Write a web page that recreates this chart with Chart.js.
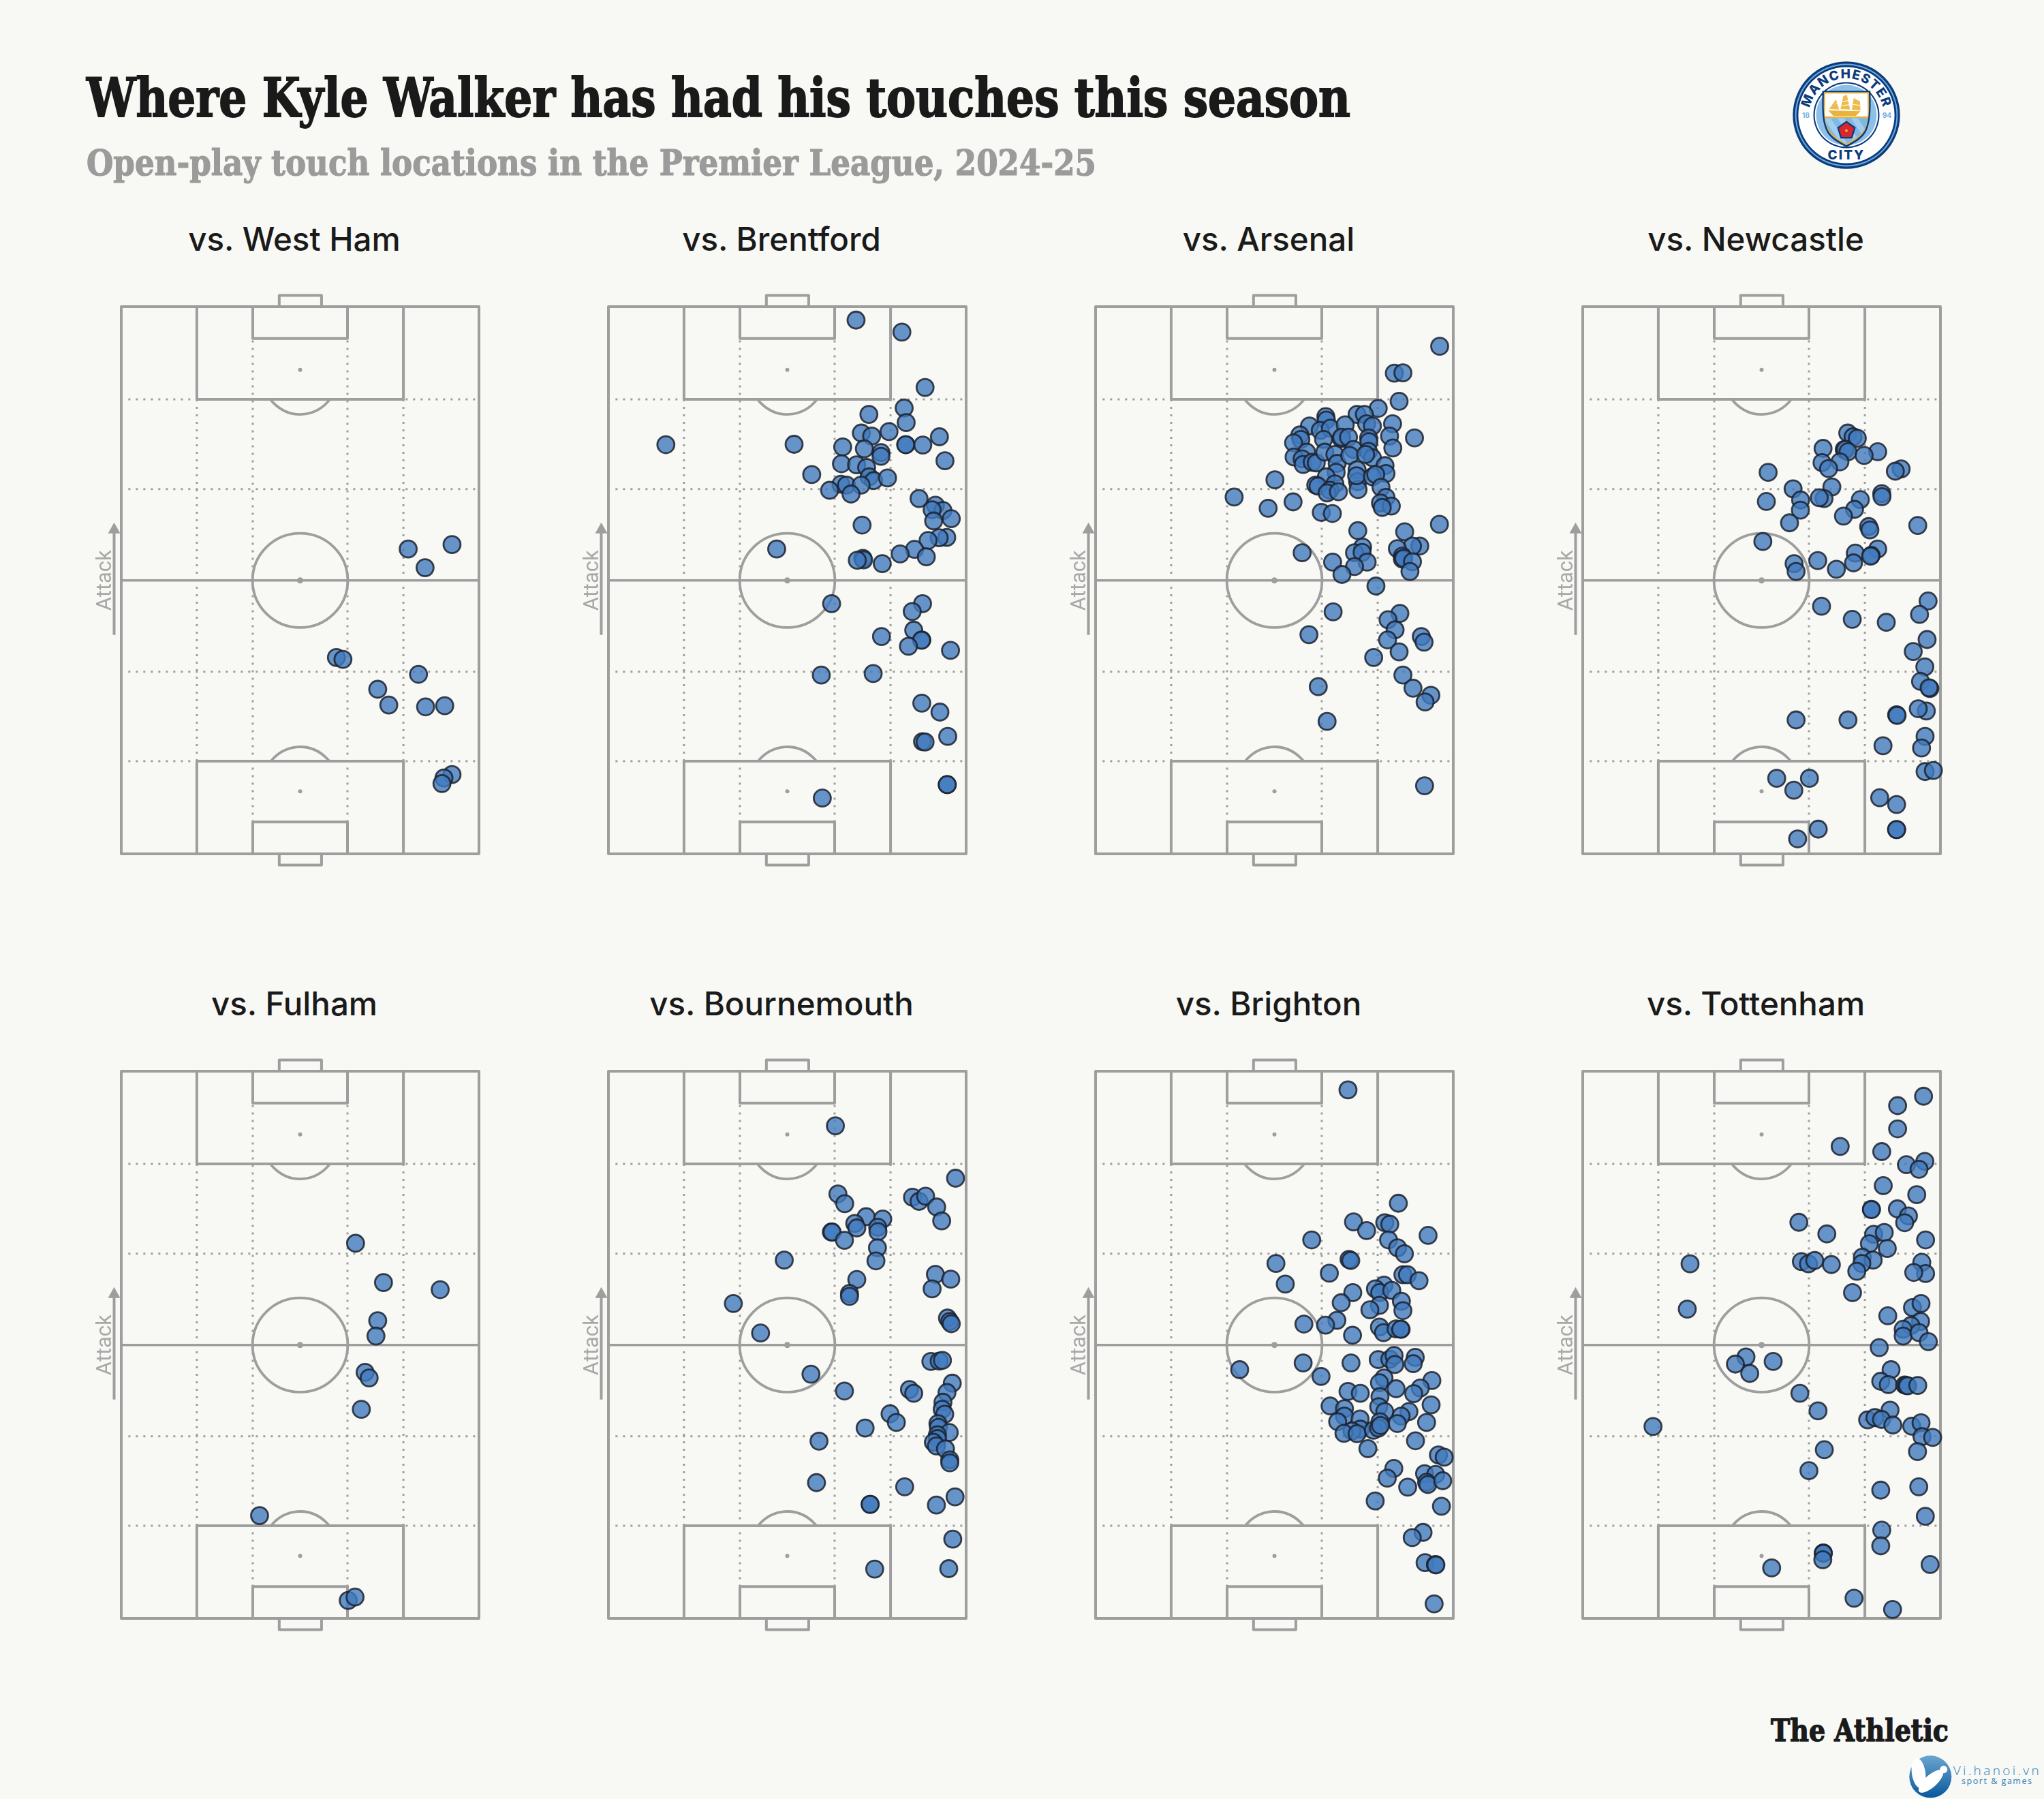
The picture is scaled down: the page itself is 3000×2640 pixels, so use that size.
<!DOCTYPE html>
<html>
<head>
<meta charset="utf-8">
<title>Where Kyle Walker has had his touches this season</title>
<script src="https://cdn.jsdelivr.net/npm/chart.js@4/dist/chart.umd.min.js"></script>
<style>
  html, body { margin: 0; padding: 0; background: #f8f8f4; }
  body { position: relative; width: 3000px; height: 2640px; overflow: hidden; }
  canvas { position: absolute; }
  .match { position: absolute; font: 500 47.5px Inter, sans-serif; color: #1a1a1a; text-align: center; width: 700px; line-height: 60px; }
  #overlay { position: absolute; left: 0; top: 0; }
</style>
</head>
<body>
<svg id="overlay" width="3000" height="2640" xmlns="http://www.w3.org/2000/svg">
  <defs>
    <path id="crestArc" d="M 2655 170 A 55 55 0 0 1 2765 170"/>
    <linearGradient id="viBlue" x1="0" y1="0" x2="0" y2="1">
      <stop offset="0" stop-color="#6ba5cf"/>
      <stop offset="1" stop-color="#07589d"/>
    </linearGradient>
    <clipPath id="shieldLower">
      <path d="M417 340 L603 340 C604 350 600 370 590 386 C576 416 542 436 510 452 C478 436 444 416 430 386 C420 370 416 350 417 340 Z"/>
    </clipPath>
  </defs>
  <text x="127" y="171" font-family="'DejaVu Serif Condensed','DejaVu Serif',serif" font-weight="700" font-size="78" fill="#1a1a1a" stroke="#1a1a1a" stroke-width="1.8" textLength="1855" lengthAdjust="spacingAndGlyphs">Where Kyle Walker has had his touches this season</text>
  <text x="127" y="257" font-family="'DejaVu Serif Condensed','DejaVu Serif',serif" font-weight="700" font-size="52" fill="#9b9b9b" stroke="#9b9b9b" stroke-width="1.2" textLength="1482" lengthAdjust="spacingAndGlyphs">Open-play touch locations in the Premier League, 2024-25</text>

  <!-- club crest -->
  <circle cx="2710" cy="169" r="78.7" fill="#0b3b7c"/>
  <circle cx="2710" cy="169" r="75.4" fill="#6cabdd"/>
  <circle cx="2710" cy="169" r="73.4" fill="#0b3b7c"/>
  <circle cx="2710" cy="169" r="70.6" fill="#ffffff"/>
  <circle cx="2710" cy="169" r="48.5" fill="#0b3b7c"/>
  <circle cx="2710" cy="169" r="46.4" fill="#ffffff"/>
  <circle cx="2710" cy="169" r="44.5" fill="#8cc0e8"/>
  <g transform="translate(2540 60) scale(0.3333)">
    <path d="M404 220 L616 220 C618 300 618 350 600 392 C585 428 545 450 510 468 C475 450 435 428 420 392 C402 350 402 300 404 220 Z" fill="#0b3b7c"/>
    <path d="M411 226 L609 226 C611 300 611 348 594 388 C580 422 543 442 510 460 C477 442 440 422 426 388 C409 348 409 300 411 226 Z" fill="#e9b33f"/>
    <path d="M417 232 L603 232 L604 332 L416 332 Z" fill="#ffffff"/>
    <path d="M417 340 L603 340 C604 350 600 370 590 386 C576 416 542 436 510 452 C478 436 444 416 430 386 C420 370 416 350 417 340 Z" fill="#7fb8e4"/>
    <g clip-path="url(#shieldLower)" fill="#a3cdee">
      <path d="M410 340 L440 340 L520 460 L490 460 Z M470 340 L500 340 L580 460 L550 460 Z M530 340 L560 340 L640 460 L610 460 Z"/>
    </g>
    <path d="M430 306 L572 310 L552 330 L452 330 Z" fill="#e9b33f"/>
    <path d="M434 300 L464 258 L478 302 Z M484 300 L496 244 L512 236 L526 302 Z M534 304 L542 252 L570 266 L572 306 Z" fill="#efbb4c"/>
    <path d="M490 268 L522 262 M488 286 L526 280 M464 276 L476 274 M540 280 L570 284" stroke="#ffffff" stroke-width="3" fill="none"/>
    <path d="M510 352 L551 381 L536 430 L484 430 L469 381 Z" fill="#0b3b7c"/>
    <path d="M510 360 L543 384 L531 423 L489 423 L477 384 Z" fill="#d8262c"/>
    <circle cx="510" cy="395" r="6" fill="#e9b33f"/>
  </g>
  <text font-family="Inter, sans-serif" font-weight="800" font-size="19" fill="#0b3b7c" letter-spacing="1.3" text-anchor="middle"><textPath href="#crestArc" startOffset="50%">MANCHESTER</textPath></text>
  <text x="2710" y="234" font-family="Inter, sans-serif" font-weight="800" font-size="19" fill="#0b3b7c" letter-spacing="2" text-anchor="middle">CITY</text>
  <text x="2650.5" y="173" font-family="Inter, sans-serif" font-weight="600" font-size="10.5" fill="#6cabdd" text-anchor="middle">18</text>
  <text x="2769.5" y="173" font-family="Inter, sans-serif" font-weight="600" font-size="10.5" fill="#6cabdd" text-anchor="middle">94</text>

  <!-- footer marks -->
  <text x="2599" y="2555" font-family="'DejaVu Serif Condensed','DejaVu Serif',serif" font-weight="700" font-size="45" fill="#1a1a1a" stroke="#1a1a1a" stroke-width="1.3" textLength="261" lengthAdjust="spacingAndGlyphs">The Athletic</text>
  <circle cx="2833.3" cy="2607.3" r="31" fill="url(#viBlue)"/>
  <ellipse cx="2816" cy="2602" rx="10" ry="22" transform="rotate(-8 2816 2602)" fill="#ffffff"/>
  <ellipse cx="2834" cy="2614" rx="9" ry="23" transform="rotate(48 2834 2614)" fill="#ffffff"/>
  <circle cx="2852.7" cy="2596.7" r="5.5" fill="#ffffff"/>
  <text x="2866.7" y="2605" font-family="'Open Sans', sans-serif" font-weight="300" font-size="19" fill="#2f7fb9" textLength="126">Vi.hanoi.vn</text>
  <text x="2879" y="2618" font-family="'Open Sans', sans-serif" font-weight="400" font-size="12.5" fill="#2f7fb9" textLength="103">sport &amp; games</text>
</svg>
<script>
// touch locations, [across, along] in pitch units
// (pitch is 1420 wide, 1463 long, 0 along = the goal being attacked)
const westHam = [[1139,648],[1206,698],[1313,636],[854,938],[880,943],[1180,983],[1018,1023],[1062,1065],[1208,1070],[1284,1067],[1313,1251],[1281,1260],[1273,1275]];
const brentford = [[983,36],[1165,68],[1257,216],[1174,271],[1182,310],[1034,288],[1114,334],[1004,338],[1045,346],[1314,348],[1181,369],[1180,369],[1248,370],[228,369],[737,368],[930,375],[1016,380],[1082,390],[1082,400],[1336,412],[925,420],[985,423],[1025,430],[1035,455],[1053,465],[1108,458],[807,449],[923,475],[945,477],[1003,477],[878,491],[963,501],[1233,513],[1298,531],[1328,545],[1285,543],[1361,567],[1291,573],[1007,584],[1343,617],[1313,618],[1269,625],[1215,649],[1262,669],[1158,661],[668,648],[1010,673],[1013,677],[988,678],[1087,687],[886,794],[1247,794],[1206,815],[1212,865],[1084,882],[1244,891],[1243,892],[1191,908],[1358,919],[845,985],[1051,981],[1244,1060],[1316,1084],[1347,1149],[1247,1163],[1257,1164],[1345,1278],[1345,1278],[849,1314]];
const arsenal = [[1205,253],[1122,272],[1038,288],[1067,288],[1076,313],[1099,319],[1179,313],[1167,346],[1180,378],[1266,351],[914,294],[916,303],[849,319],[892,331],[932,325],[991,316],[811,343],[815,355],[786,364],[905,355],[975,353],[977,349],[1004,349],[1084,351],[1085,361],[838,389],[788,402],[820,407],[824,422],[860,416],[876,418],[910,389],[950,395],[959,419],[1024,382],[1009,398],[1083,387],[1099,404],[1072,395],[1149,425],[1153,446],[1038,436],[955,443],[916,455],[950,474],[1040,468],[1042,489],[1036,452],[1099,455],[1112,449],[874,477],[883,480],[930,491],[919,498],[964,495],[1133,483],[1153,510],[1131,525],[1174,533],[1138,537],[896,550],[940,553],[712,463],[784,522],[685,539],[1366,106],[1186,178],[1220,177],[550,509],[1041,599],[1227,602],[1365,582],[1287,640],[1258,640],[1198,647],[1060,643],[1028,658],[1058,657],[820,658],[941,683],[1078,683],[1028,695],[978,716],[1218,667],[1218,675],[1223,673],[1258,682],[1248,708],[1113,747],[943,816],[1208,820],[1161,837],[1189,864],[1159,891],[847,877],[1293,882],[1304,897],[1205,923],[1104,938],[1220,985],[884,1016],[1260,1020],[1331,1039],[1308,1057],[919,1109],[1306,1281]];
const newcastle = [[1052,338],[1073,348],[1090,352],[1038,382],[1043,382],[1053,388],[954,379],[1171,388],[1117,398],[950,417],[1021,415],[976,433],[1264,434],[1241,440],[736,443],[989,482],[835,487],[865,517],[958,513],[939,511],[1187,500],[1188,508],[1102,516],[729,521],[1079,542],[864,544],[1035,560],[821,578],[1135,588],[1140,597],[1330,585],[715,628],[1171,648],[1082,659],[1145,665],[1143,667],[1075,685],[839,687],[847,708],[933,679],[1007,702],[948,801],[1371,787],[1337,823],[1070,836],[1205,844],[1367,890],[1312,922],[1358,963],[1341,1002],[1378,1021],[1375,1019],[1364,1081],[1332,1075],[1246,1091],[1248,1093],[847,1105],[1053,1105],[1359,1149],[1345,1180],[1192,1174],[1359,1243],[1392,1240],[770,1261],[900,1261],[838,1293],[1179,1313],[1246,1331],[935,1397],[853,1423],[1246,1398],[1246,1398]];
const fulham = [[930,460],[1041,565],[1266,584],[1018,667],[1011,708],[968,805],[984,820],[953,904],[549,1188],[901,1415],[928,1406]];
const bournemouth = [[901,146],[1378,286],[911,328],[938,354],[1207,337],[1233,348],[1259,334],[1303,363],[1323,400],[1023,389],[1089,395],[978,407],[986,419],[1069,417],[1070,429],[885,430],[888,430],[937,452],[1068,472],[1062,507],[698,505],[986,557],[1298,543],[1359,556],[1285,582],[957,594],[957,602],[496,621],[604,700],[1346,660],[1355,669],[1361,675],[804,810],[937,855],[1280,776],[1313,775],[1326,773],[1365,834],[1344,859],[1195,851],[1212,861],[1328,885],[1325,904],[1335,917],[1118,916],[1143,939],[1308,942],[1310,952],[1019,954],[1353,966],[1306,972],[1306,982],[1290,992],[1302,1002],[1338,1010],[836,989],[1355,1039],[1355,1047],[826,1100],[1176,1111],[1376,1138],[1039,1158],[1039,1158],[1302,1160],[1367,1251],[1057,1331],[1351,1330]];
const brighton = [[1002,50],[1202,353],[1024,403],[1076,426],[1148,405],[1168,409],[1320,439],[1163,451],[858,451],[1199,472],[1226,488],[1006,503],[1013,506],[716,514],[928,540],[1220,544],[1238,544],[1284,560],[753,569],[1145,572],[1111,582],[1128,592],[1176,586],[1021,592],[1214,615],[1220,640],[975,619],[1127,626],[1089,638],[958,666],[913,679],[827,676],[1127,684],[1143,699],[1193,689],[1213,690],[1211,690],[1020,706],[824,780],[1014,780],[1122,771],[1168,770],[1185,760],[1188,784],[1269,765],[1261,782],[572,798],[895,816],[1335,827],[1145,820],[1127,833],[1289,847],[1193,849],[1263,862],[1002,856],[1051,861],[1129,870],[931,895],[1124,897],[1148,910],[988,902],[1332,892],[1244,910],[988,922],[1213,922],[1050,930],[961,937],[1129,937],[1198,942],[1314,939],[1051,957],[1018,962],[986,968],[1038,969],[1103,960],[1123,954],[1131,947],[1081,1009],[1270,988],[1361,1026],[1384,1032],[1184,1062],[1158,1088],[1306,1076],[1350,1078],[1314,1099],[1319,1105],[1378,1095],[1239,1112],[1110,1149],[1373,1163],[1300,1233],[1257,1247],[1308,1314],[1349,1319],[1351,1320],[1344,1424]];
const tottenham = [[1353,67],[1250,92],[1250,154],[1022,201],[1187,215],[1358,241],[1285,250],[1335,262],[1193,306],[1326,330],[1146,369],[1146,370],[1249,368],[1293,387],[1278,405],[858,404],[969,435],[1155,436],[1197,431],[1361,451],[1138,461],[1209,474],[426,515],[868,509],[896,515],[921,506],[987,517],[1110,497],[1153,505],[1108,514],[1088,535],[1346,511],[1361,541],[1314,538],[1071,592],[415,636],[1211,654],[1309,632],[1343,621],[1341,669],[1303,680],[1272,690],[1272,708],[1335,699],[1372,723],[1177,739],[648,764],[756,776],[606,783],[663,808],[1224,798],[1183,829],[1213,838],[1278,839],[1285,840],[1290,841],[1330,840],[862,861],[934,908],[1220,906],[1131,932],[1160,926],[1186,931],[1231,946],[1306,949],[1343,940],[1347,977],[1389,979],[279,950],[959,1012],[1329,1017],[898,1068],[1334,1111],[1183,1120],[1360,1190],[1187,1227],[1183,1269],[955,1288],[955,1289],[953,1306],[750,1328],[1379,1319],[1077,1409],[1230,1439]];

const opponents = ['West Ham', 'Brentford', 'Arsenal', 'Newcastle', 'Fulham', 'Bournemouth', 'Brighton', 'Tottenham'];
const matches = [westHam, brentford, arsenal, newcastle, fulham, bournemouth, brighton, tottenham];

// pitch markings, same units as the touches
const PITCH_W = 1420;
const PITCH_L = 1463;
const boxes = [[0, 0, 1420, 1463], [300, 0, 1120, 248], [300, 1215, 1120, 1463], [522, 0, 898, 85], [522, 1378, 898, 1463], [627, -30, 795, 0], [627, 1463, 795, 1493]];
const dottedAcross = [248, 488, 976, 1215];
const dottedAlong = [[300, 248, 1215], [522, 90, 1378], [898, 90, 1378], [1120, 248, 1215]];
const spots = [[710, 169, 3], [710, 1296, 3], [710, 732, 4.5]];

const LINE = '#9e9e9e';
const panelX = [178, 893, 1608, 2323];
const panelY = [450, 1572];
const PAD = 50;

const pitchPlugin = {
  id: 'pitch',
  beforeDatasetsDraw(chart) {
    const ctx = chart.ctx;
    const px = (v) => chart.scales.x.getPixelForValue(v);
    const py = (v) => chart.scales.y.getPixelForValue(v);
    const rx = (v) => px(v) - px(0);
    const ry = (v) => py(v) - py(0);

    ctx.save();
    ctx.strokeStyle = LINE;
    ctx.fillStyle = LINE;

    // dotted thirds and channels
    ctx.lineWidth = 3;
    ctx.setLineDash([3, 8]);
    dottedAcross.forEach((y) => {
      ctx.beginPath();
      ctx.moveTo(px(28), py(y));
      ctx.lineTo(px(PITCH_W), py(y));
      ctx.stroke();
    });
    dottedAlong.forEach(([x, y0, y1]) => {
      ctx.beginPath();
      ctx.moveTo(px(x), py(y0));
      ctx.lineTo(px(x), py(y1));
      ctx.stroke();
    });
    ctx.setLineDash([]);

    // solid lines
    ctx.lineWidth = 4;
    ctx.lineJoin = 'round';
    boxes.forEach(([x0, y0, x1, y1]) => {
      ctx.strokeRect(px(x0), py(y0), px(x1) - px(x0), py(y1) - py(y0));
    });
    ctx.lineWidth = 3.6;
    ctx.beginPath();
    ctx.moveTo(px(0), py(732));
    ctx.lineTo(px(PITCH_W), py(732));
    ctx.stroke();

    // centre circle and D's
    ctx.lineWidth = 3.8;
    ctx.beginPath();
    ctx.ellipse(px(710), py(732), rx(189), ry(126), 0, 0, Math.PI * 2);
    ctx.stroke();
    ctx.beginPath();
    ctx.ellipse(px(710), py(169), rx(158), ry(119), 0, 0.726, Math.PI - 0.726);
    ctx.stroke();
    ctx.beginPath();
    ctx.ellipse(px(710), py(1296), rx(158), ry(119), 0, Math.PI + 0.726, Math.PI * 2 - 0.726);
    ctx.stroke();

    spots.forEach(([x, y, r]) => {
      ctx.beginPath();
      ctx.arc(px(x), py(y), r, 0, Math.PI * 2);
      ctx.fill();
    });

    // attack arrow and label
    const arrowX = chart.chartArea.left - 10.5;
    const midY = py(732);
    ctx.lineWidth = 4;
    ctx.beginPath();
    ctx.moveTo(arrowX, midY + 80);
    ctx.lineTo(arrowX, midY - 75);
    ctx.stroke();
    ctx.beginPath();
    ctx.moveTo(arrowX, midY - 85);
    ctx.lineTo(arrowX + 9, midY - 69);
    ctx.lineTo(arrowX - 9, midY - 69);
    ctx.closePath();
    ctx.fill();
    ctx.translate(arrowX - 4.5, midY);
    ctx.rotate(-Math.PI / 2);
    ctx.fillStyle = '#a8a8a8';
    ctx.font = '400 31px Roboto, sans-serif';
    ctx.textAlign = 'center';
    ctx.textBaseline = 'alphabetic';
    ctx.fillText('Attack', 0, 0);
    ctx.restore();
  }
};

matches.forEach((touches, i) => {
  const col = i % 4;
  const row = Math.floor(i / 4);
  const left = panelX[col];
  const top = panelY[row];

  const label = document.createElement('div');
  label.className = 'match';
  label.textContent = 'vs. ' + opponents[i];
  label.style.left = (left + 262 - 8 - 350) + 'px';
  label.style.top = (top - 129) + 'px';
  document.body.appendChild(label);

  const canvas = document.createElement('canvas');
  canvas.style.left = (left - PAD) + 'px';
  canvas.style.top = (top - PAD) + 'px';
  canvas.width = 525 + PAD * 2;
  canvas.height = 803 + PAD * 2;
  document.body.appendChild(canvas);

  new Chart(canvas, {
    type: 'scatter',
    data: {
      datasets: [{
        data: touches,
        backgroundColor: 'rgba(65, 123, 190, 0.8)',
        borderColor: 'rgba(28, 34, 46, 0.85)',
        borderWidth: 2.8,
        pointRadius: 12.5,
        clip: false
      }]
    },
    options: {
      responsive: false,
      animation: false,
      devicePixelRatio: 1,
      layout: { padding: PAD },
      plugins: { legend: { display: false }, tooltip: { enabled: false } },
      scales: {
        x: { type: 'linear', display: false, min: 0, max: PITCH_W },
        y: { type: 'linear', display: false, min: 0, max: PITCH_L, reverse: true }
      }
    },
    plugins: [pitchPlugin]
  });
});
</script>
</body>
</html>
